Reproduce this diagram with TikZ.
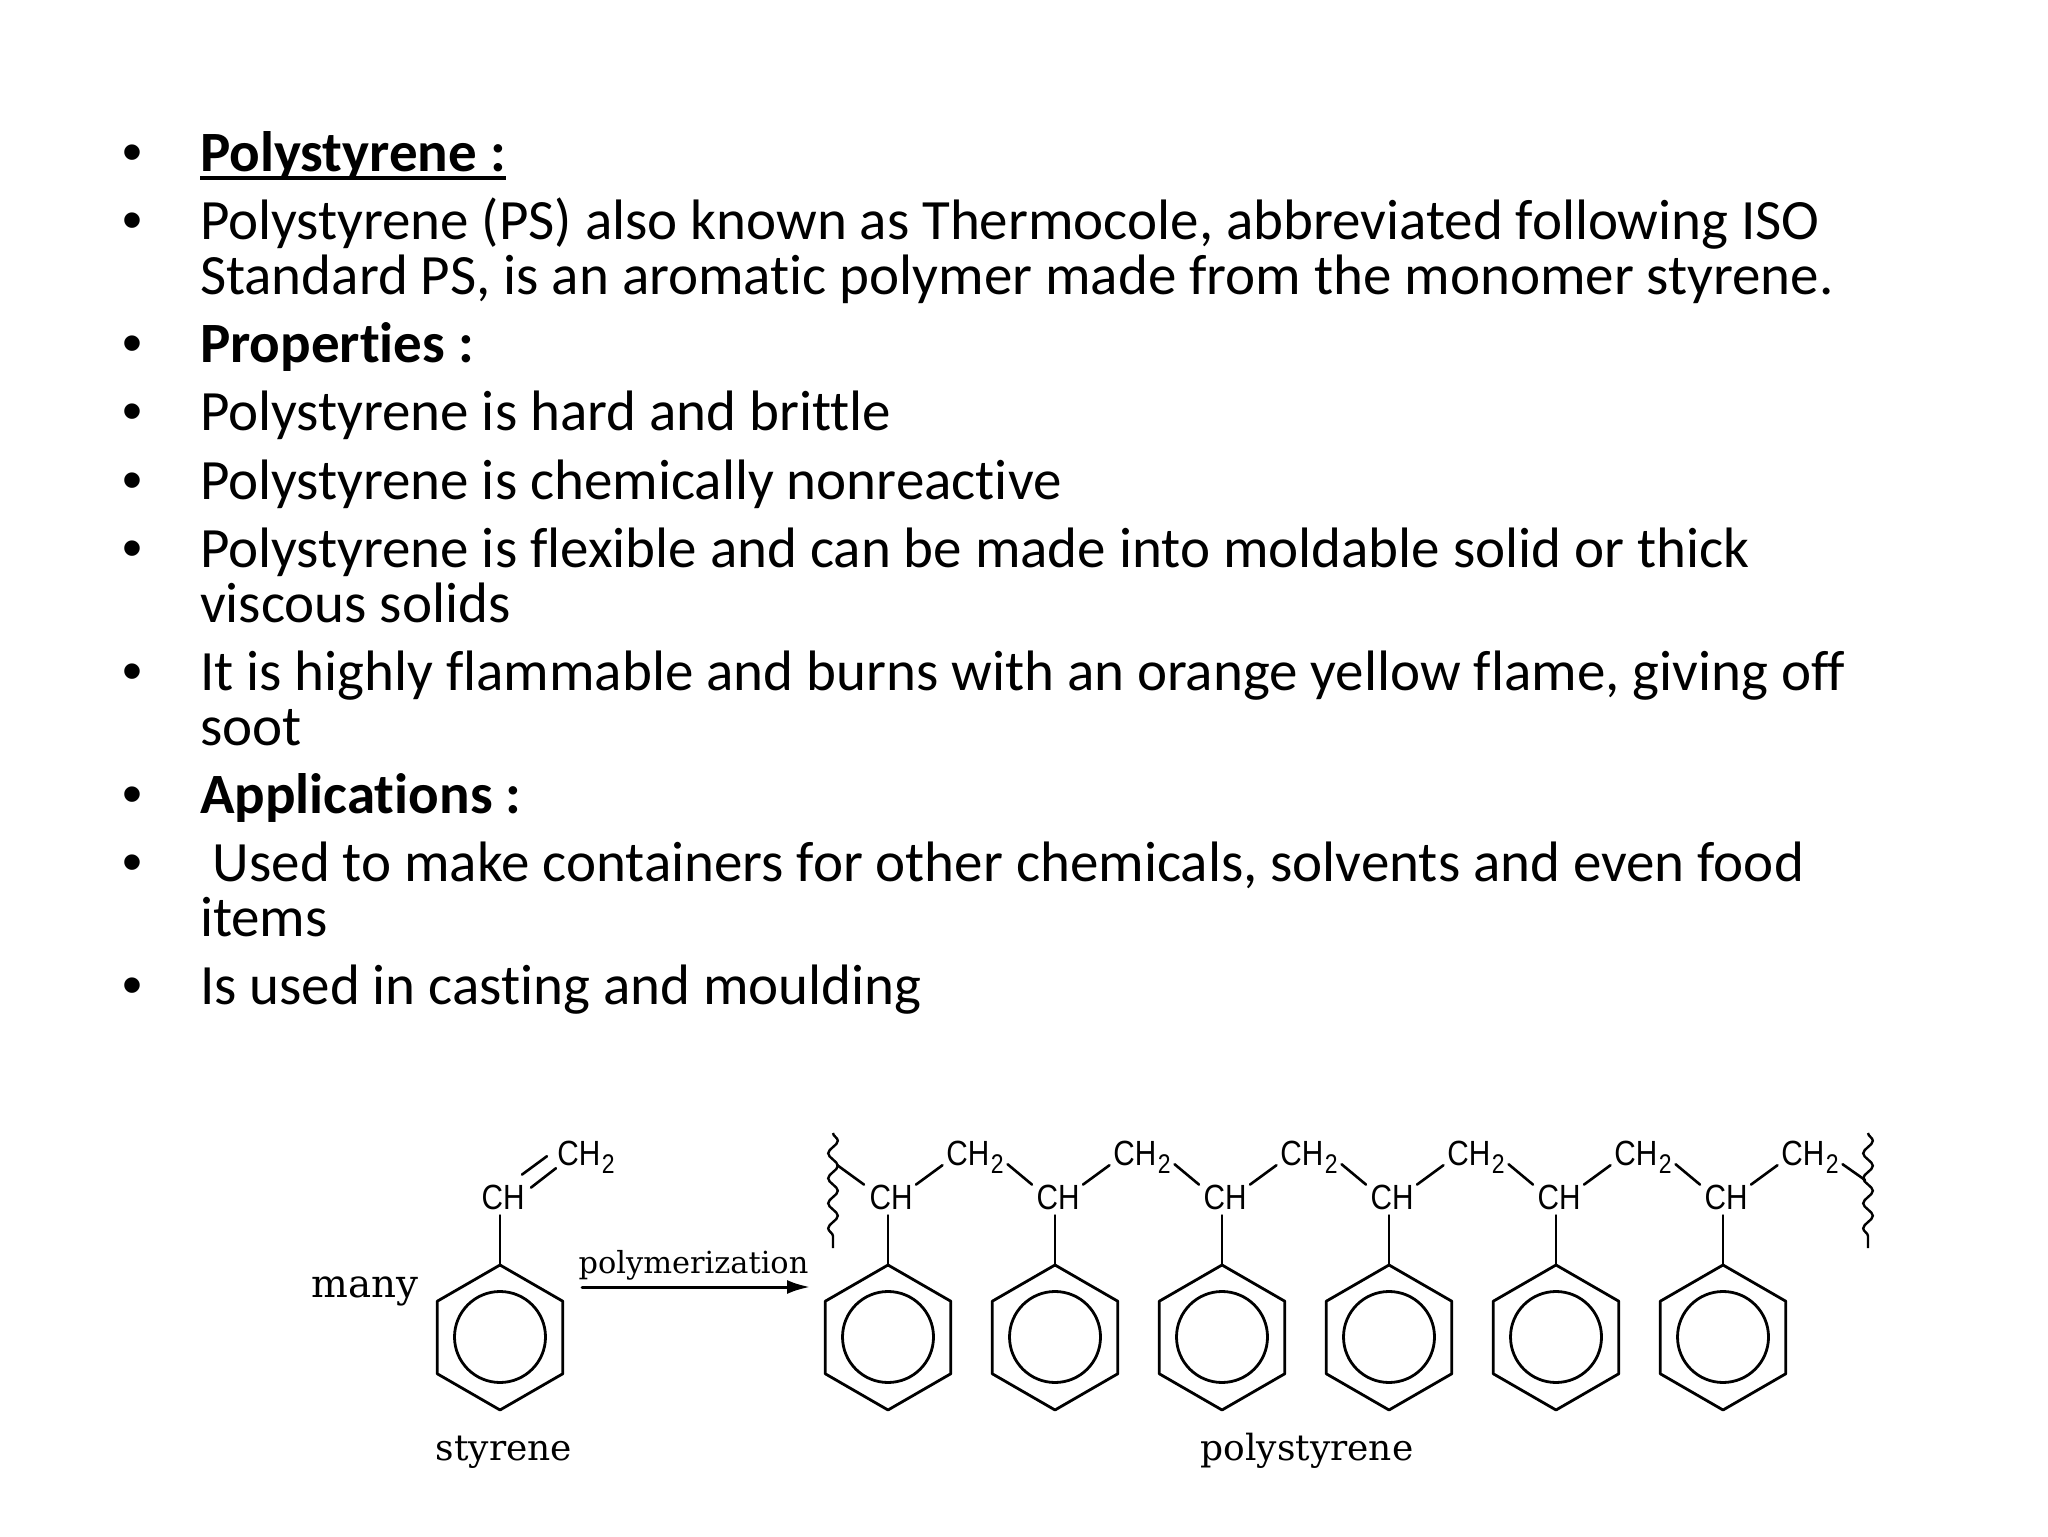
\documentclass[tikz,border=0pt]{standalone}
\usepackage{fontspec}
\usepackage{tikz}
\usetikzlibrary{arrows.meta,decorations.pathmorphing,shapes.geometric}
\newfontfamily\slidefont[Ligatures=CommonOff]{Carlito}
\newfontfamily\chemfont{Liberation Sans}
\newfontfamily\slabfont{DejaVu Serif}
\newcommand{\subtwo}{\kern0.8pt\raisebox{-4pt}{\fontsize{13.5}{14}\selectfont 2}}
\tikzset{
  lineitem/.style={text=drawColor,anchor=base west,inner sep=0pt,outer sep=0pt,align=left,
    font={\slidefont\fontsize{28.5}{27.5}\selectfont}},
  dotitem/.style={text=drawColor,anchor=base,inner sep=0pt,outer sep=0pt,
    font={\chemfont\fontsize{28.5}{27.5}\selectfont}},
  group/.style={text=drawColor,inner sep=0pt,outer sep=0pt,xscale=0.85,
    font={\chemfont\fontsize{17.5}{18}\selectfont}},
  caption/.style={text=drawColor,anchor=base,inner sep=0pt,outer sep=0pt,font={\slabfont\fontsize{18}{20}\selectfont}},
  ring/.style={draw=drawColor,line width=1.4pt,line join=round,regular polygon,regular polygon sides=6,
    shape border rotate=30,minimum size=72.5pt,inner sep=0pt,outer sep=0pt},
  loop/.style={draw=drawColor,line width=1.4pt,circle,minimum size=45.5pt,inner sep=0pt,outer sep=0pt},
  bond/.style={draw=drawColor,line width=1.3pt,line join=round,line cap=round},
  wavy/.style={draw=drawColor,line width=1.2pt,decorate,decoration={snake,segment length=12.5pt,amplitude=2.4pt}}
}
\begin{document}
\begin{tikzpicture}[x=1pt,y=1pt]
\definecolor[named]{drawColor}{rgb}{0.00,0.00,0.00}
\definecolor[named]{fillColor}{rgb}{1.00,1.00,1.00}
\path[use as bounding box,fill=fillColor] (0,0) rectangle (1024,768);

\node[dotitem] (dotA) at ( 66.00,682.00) {•};
\node[lineitem] (headPS) at (100.00,682.00) {\textbf{Polystyrene :}};
\path[draw=drawColor,line width=2pt] ([yshift=-3pt]headPS.base west) -- ([yshift=-3pt]headPS.base east);
\node[dotitem] (dotB) at ( 66.00,648.00) {•};
\node[lineitem] (linePS) at (100.00,620.50) {Polystyrene (PS) also known as Thermocole, abbreviated following ISO\\Standard PS, is an aromatic polymer made from the monomer styrene.};
\node[dotitem] (dotC) at ( 66.00,586.50) {•};
\node[lineitem] (headProp) at (100.00,586.50) {\textbf{Properties :}};
\node[dotitem] (dotD) at ( 66.00,552.50) {•};
\node[lineitem] (lineHard) at (100.00,552.50) {Polystyrene is hard and brittle};
\node[dotitem] (dotE) at ( 66.00,518.00) {•};
\node[lineitem] (lineInert) at (100.00,518.00) {Polystyrene is chemically nonreactive};
\node[dotitem] (dotF) at ( 66.00,484.00) {•};
\node[lineitem] (lineFlex) at (100.00,456.50) {Polystyrene is flexible and can be made into moldable solid or thick\\viscous solids};
\node[dotitem] (dotG) at ( 66.00,422.50) {•};
\node[lineitem] (lineFlame) at (100.00,395.00) {It is highly flammable and burns with an orange yellow flame, giving off\\soot};
\node[dotitem] (dotH) at ( 66.00,361.00) {•};
\node[lineitem] (headApp) at (100.00,361.00) {\textbf{Applications :}};
\node[dotitem] (dotI) at ( 66.00,327.00) {•};
\node[lineitem] (lineUsed) at (100.00,299.50) {\ Used to make containers for other chemicals, solvents and even food\\items};
\node[dotitem] (dotJ) at ( 66.00,265.50) {•};
\node[lineitem] (lineCast) at (100.00,265.50) {Is used in casting and moulding};

% styrene
\node[caption,font={\slabfont\fontsize{19.4}{21}\selectfont}] (labelMany) at (182.50,119.50) {many};
\node[caption] (labelStyrene) at (252.00, 38.00) {styrene};
\node[group] (chS) at (251.50,169.50) {CH};
\node[group] (chtwoS) at (293.00,189.50) {CH\subtwo};
\node[ring] (ringS) at (250.00, 99.25) {};
\node[loop] (loopS) at (250.00, 99.50) {};
\path[bond] ([xshift=-1.25pt,yshift=5pt]chS.north east) -- ([xshift=-5.25pt,yshift=8.5pt]chtwoS.south west);
\path[bond] ([xshift=3.25pt,yshift=-1.5pt]chS.north east) -- ([xshift=-0.75pt,yshift=2.5pt]chtwoS.south west);
\path[bond] ([yshift=-3pt]chS.south -| ringS.north) -- (ringS.north);

% reaction arrow
\coordinate (arrowFrom) at (291.00,124.50);
\coordinate (arrowTo) at (405.00,124.50);
\node[caption,font={\slabfont\fontsize{15.2}{17}\selectfont}] (labelReact) at (346.75,131.50) {polymerization};
\path[bond,line width=1.5pt,-{Latex[length=11.5pt,width=7pt]}] (arrowFrom) -- (arrowTo);

% polystyrene
\node[caption] (labelPoly) at (653.50, 38.00) {polystyrene};
\coordinate (wavyLtop) at (416.50,201.50);
\coordinate (wavyLbot) at (416.50,144.00);
\coordinate (wavyLjoin) at (418.50,185.50);
\coordinate (wavyRtop) at (934.00,201.50);
\coordinate (wavyRbot) at (934.00,144.00);
\coordinate (wavyRjoin) at (932.50,178.00);
\path[wavy] (wavyLtop) -- (wavyLbot);
\path[wavy] (wavyRtop) -- (wavyRbot);

\node[group] (chA) at (445.50,169.50) {CH};
\node[group] (chB) at (529.00,169.50) {CH};
\node[group] (chC) at (612.50,169.50) {CH};
\node[group] (chD) at (696.00,169.50) {CH};
\node[group] (chE) at (779.50,169.50) {CH};
\node[group] (chF) at (863.00,169.50) {CH};
\node[group] (chtwoA) at (487.50,189.50) {CH\subtwo};
\node[group] (chtwoB) at (571.00,189.50) {CH\subtwo};
\node[group] (chtwoC) at (654.50,189.50) {CH\subtwo};
\node[group] (chtwoD) at (738.00,189.50) {CH\subtwo};
\node[group] (chtwoE) at (821.50,189.50) {CH\subtwo};
\node[group] (chtwoF) at (905.00,189.50) {CH\subtwo};
\node[ring] (ringA) at (444.00, 99.25) {};
\node[ring] (ringB) at (527.50, 99.25) {};
\node[ring] (ringC) at (611.00, 99.25) {};
\node[ring] (ringD) at (694.50, 99.25) {};
\node[ring] (ringE) at (778.00, 99.25) {};
\node[ring] (ringF) at (861.50, 99.25) {};
\node[loop] (loopA) at (444.00, 99.50) {};
\node[loop] (loopB) at (527.50, 99.50) {};
\node[loop] (loopC) at (611.00, 99.50) {};
\node[loop] (loopD) at (694.50, 99.50) {};
\node[loop] (loopE) at (778.00, 99.50) {};
\node[loop] (loopF) at (861.50, 99.50) {};

\path[bond] (wavyLjoin) -- ([xshift=-2.75pt]chA.north west);
\path[bond] ([xshift=1.75pt]chA.north east) -- ([xshift=-2pt,yshift=4pt]chtwoA.south west);
\path[bond] ([xshift=2pt,yshift=4.5pt]chtwoA.south east) -- ([xshift=-2.25pt]chB.north west);
\path[bond] ([xshift=1.75pt]chB.north east) -- ([xshift=-2pt,yshift=4pt]chtwoB.south west);
\path[bond] ([xshift=2pt,yshift=4.5pt]chtwoB.south east) -- ([xshift=-2.25pt]chC.north west);
\path[bond] ([xshift=1.75pt]chC.north east) -- ([xshift=-2pt,yshift=4pt]chtwoC.south west);
\path[bond] ([xshift=2pt,yshift=4.5pt]chtwoC.south east) -- ([xshift=-2.25pt]chD.north west);
\path[bond] ([xshift=1.75pt]chD.north east) -- ([xshift=-2pt,yshift=4pt]chtwoD.south west);
\path[bond] ([xshift=2pt,yshift=4.5pt]chtwoD.south east) -- ([xshift=-2.25pt]chE.north west);
\path[bond] ([xshift=1.75pt]chE.north east) -- ([xshift=-2pt,yshift=4pt]chtwoE.south west);
\path[bond] ([xshift=2pt,yshift=4.5pt]chtwoE.south east) -- ([xshift=-2.25pt]chF.north west);
\path[bond] ([xshift=1.75pt]chF.north east) -- ([xshift=-2pt,yshift=4pt]chtwoF.south west);
\path[bond] ([xshift=2pt,yshift=4.5pt]chtwoF.south east) -- (wavyRjoin);

\path[bond] ([yshift=-3pt]chA.south -| ringA.north) -- (ringA.north);
\path[bond] ([yshift=-3pt]chB.south -| ringB.north) -- (ringB.north);
\path[bond] ([yshift=-3pt]chC.south -| ringC.north) -- (ringC.north);
\path[bond] ([yshift=-3pt]chD.south -| ringD.north) -- (ringD.north);
\path[bond] ([yshift=-3pt]chE.south -| ringE.north) -- (ringE.north);
\path[bond] ([yshift=-3pt]chF.south -| ringF.north) -- (ringF.north);
\end{tikzpicture}
\end{document}
